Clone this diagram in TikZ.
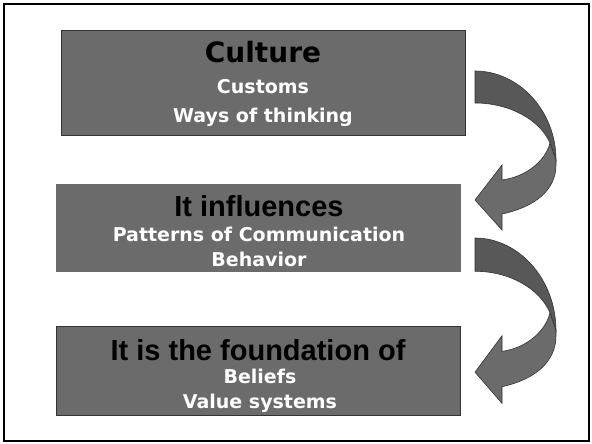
\documentclass[tikz,border=0pt]{standalone}
\usepackage{fontspec}
\setmainfont{Liberation Sans}
\newfontfamily\verd{DejaVu Sans}
\definecolor{boxgray}{HTML}{6B6B6B}
\definecolor{backgray}{HTML}{585858}
\definecolor{edgegray}{HTML}{333333}
\tikzset{box/.style={rectangle, draw=edgegray, line width=1pt, fill=boxgray, minimum width=404pt, inner sep=0pt}}
\tikzset{title/.style={anchor=base, text=black, font=\bfseries\fontsize{29}{29}\selectfont}}
\tikzset{sub/.style={anchor=base, text=white, font=\verd\bfseries\fontsize{19}{19}\selectfont}}
\tikzset{curvarrow/.pic={
  \filldraw[fill=backgray, draw=edgegray, line width=0.6pt] (0,0) .. controls (44,0) and (81,40) .. (81,89) -- (75,72) .. controls (65,49) and (35,32) .. (0,32) -- cycle;
  \filldraw[fill=boxgray, draw=edgegray, line width=0.6pt] (75,72) .. controls (70,91) and (50,106) .. (27,109) -- (27,94) -- (0,129) -- (27,159) -- (27,143) .. controls (60,136) and (81,119) .. (81,94) -- (81,89) -- cycle;
}}

\begin{document}
\begin{tikzpicture}[x=1pt, y=-1pt]
        \useasboundingbox (0,0) rectangle (592,444);
        \draw[line width=2pt] (4,4) rectangle (589,441);

        \node[box, minimum height=104pt] (b1) at (263,83) {};
        \node[box, draw=none, minimum width=405pt, minimum height=88pt] (b2) at (258.5,228) {};
        \node[box, minimum height=89pt] (b3) at (258,370.5) {};

        \node[title, font=\verd\bfseries\fontsize{28}{28}\selectfont] (t1) at (263,63) {Culture};
        \node[sub] (s1a) at (263,94) {Customs};
        \node[sub] (s1b) at (263,122) {Ways of thinking};

        \node[title] (t2) at (259,216) {It influences};
        \node[sub] (s2a) at (259,241) {Patterns of Communication};
        \node[sub] (s2b) at (259,266) {Behavior};

        \node[title] (t3) at (258,360) {It is the foundation of};
        \node[sub] (s3a) at (260,383) {Beliefs};
        \node[sub] (s3b) at (260,408) {Value systems};

        \pic at (475,71) {curvarrow};
        \pic[yscale=1.04] at (475,238) {curvarrow};
\end{tikzpicture}
\end{document}
